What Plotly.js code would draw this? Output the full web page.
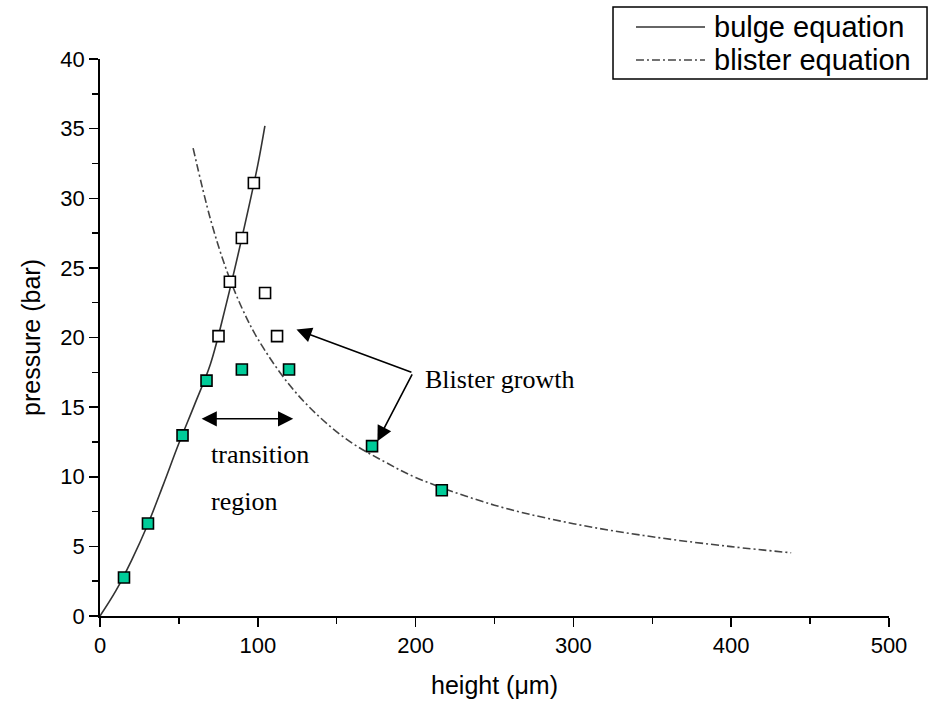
<!DOCTYPE html>
<html>
<head>
<meta charset="utf-8">
<script src="https://cdn.plot.ly/plotly-3.0.1.min.js"></script>
<style>html,body{margin:0;padding:0;background:#fff;}#chart{width:928px;height:704px;}</style>
</head>
<body>
<div id="chart"></div>
<script>
// Curve readings (height in µm, pressure in bar)
const bulgeH = [0, 10, 20, 30, 40, 50, 60, 70, 80, 90, 100, 104.5];
const bulgeP = [0, 1.8, 4.0, 6.5, 9.4, 12.4, 15.2, 18.1, 22.4, 27.2, 32.4, 35.2];
const blisterH = [59, 70, 80, 90, 100, 120, 140, 160, 180, 200, 250, 300, 350, 400, 438];
const blisterP = [33.6, 28.5, 24.9, 22.1, 19.9, 16.6, 14.2, 12.4, 11.1, 9.95, 7.96, 6.63, 5.69, 4.98, 4.54];
// Measured points
const greenH = [15.2, 30.4, 52.3, 67.5, 89.9, 119.8, 172.4, 216.6];
const greenP = [2.76, 6.64, 12.97, 16.9, 17.7, 17.7, 12.2, 9.03];
const whiteH = [75.1, 82.3, 89.9, 97.5, 104.6, 112.2];
const whiteP = [20.1, 24.0, 27.15, 31.1, 23.2, 20.1];
const seriesNames = ["bulge equation", "blister equation"];
const xTicks = [0, 100, 200, 300, 400, 500];
const yTicks = [0, 5, 10, 15, 20, 25, 30, 35, 40];

const bulgeLine = {color: "#333333", width: 1.6, shape: "spline"};
const blisterLine = {color: "#444444", width: 1.6, dash: "8px,3px,2px,3px", shape: "spline"};

const traces = [
  {x: bulgeH, y: bulgeP, mode: "lines", name: seriesNames[0], line: bulgeLine},
  {x: blisterH, y: blisterP, mode: "lines", name: seriesNames[1], line: blisterLine},
  {x: greenH, y: greenP, mode: "markers", name: "measured",
   marker: {symbol: "square", size: 11, color: "#00CC99", line: {color: "#000", width: 1.6}}},
  {x: whiteH, y: whiteP, mode: "markers", name: "measured (open)",
   marker: {symbol: "square", size: 11, color: "#ffffff", line: {color: "#000", width: 1.6}}}
];

const serif = {family: "Liberation Serif, Times New Roman, serif", size: 26, color: "#000"};
const sans = "Liberation Sans, Arial, sans-serif";
const arrowStyle = {xref: "x", yref: "y", axref: "x", ayref: "y", text: "", showarrow: true,
  arrowhead: 2, arrowsize: 1.9, arrowwidth: 1.6, arrowcolor: "#000"};

// legend box in paper coordinates
const lgX0 = 0.6502, lgX1 = 1.0482, lgY0 = 0.9641, lgY1 = 1.0934;
const lgRows = [1.0575, 0.9982];
const lgLineX = [0.6793, 0.7668];
const lgTextX = 0.7757;

const layout = {
  width: 928, height: 704,
  margin: {l: 100, r: 39, t: 59, b: 88},
  paper_bgcolor: "#fff", plot_bgcolor: "#fff",
  font: {family: sans, color: "#000"},
  showlegend: false,
  xaxis: {
    range: [0, 500], tickvals: xTicks,
    showgrid: false, zeroline: false, showline: true, linecolor: "#000", linewidth: 1.8,
    ticks: "outside", ticklen: 9, tickwidth: 1.5, tickcolor: "#000",
    minor: {dtick: 50, ticks: "outside", ticklen: 6, tickwidth: 1.5, tickcolor: "#000", showgrid: false},
    tickfont: {size: 22},
    title: {text: "height (μm)", font: {size: 25}, standoff: 19}
  },
  yaxis: {
    range: [0, 40], tickvals: yTicks,
    showgrid: false, zeroline: false, showline: true, linecolor: "#000", linewidth: 1.8,
    ticks: "outside", ticklen: 9, tickwidth: 1.5, tickcolor: "#000",
    minor: {dtick: 2.5, ticks: "outside", ticklen: 6, tickwidth: 1.5, tickcolor: "#000", showgrid: false},
    tickfont: {size: 22},
    title: {text: "pressure (bar)", font: {size: 25}, standoff: 12}
  },
  shapes: [
    {type: "rect", xref: "paper", yref: "paper", x0: lgX0, x1: lgX1, y0: lgY0, y1: lgY1,
     line: {color: "#000", width: 1.5}, fillcolor: "#fff"},
    {type: "line", xref: "paper", yref: "paper", x0: lgLineX[0], x1: lgLineX[1], y0: lgRows[0], y1: lgRows[0],
     line: {color: bulgeLine.color, width: bulgeLine.width}},
    {type: "line", xref: "paper", yref: "paper", x0: lgLineX[0], x1: lgLineX[1], y0: lgRows[1], y1: lgRows[1],
     line: {color: blisterLine.color, width: blisterLine.width, dash: blisterLine.dash}}
  ],
  annotations: [
    Object.assign({x: 64.4, y: 14.16, ax: 123.4, ay: 14.16, arrowside: "end+start", startarrowhead: 2, startarrowsize: 1.9}, arrowStyle),
    Object.assign({x: 124.5, y: 20.57, ax: 198.3, ay: 17.46}, arrowStyle),
    Object.assign({x: 175.8, y: 12.55, ax: 198.3, ay: 17.46}, arrowStyle),
    {x: 69, y: 11.6, xref: "x", yref: "y", xanchor: "left", yanchor: "middle",
     text: "transition", showarrow: false, font: serif},
    {x: 69, y: 8.2, xref: "x", yref: "y", xanchor: "left", yanchor: "middle",
     text: "region", showarrow: false, font: serif},
    {x: 204.4, y: 17.0, xref: "x", yref: "y", xanchor: "left", yanchor: "middle",
     text: "Blister growth", showarrow: false, font: serif},
    {x: lgTextX, y: lgRows[0], xref: "paper", yref: "paper", xanchor: "left", yanchor: "middle",
     text: seriesNames[0], showarrow: false, font: {family: sans, size: 29, color: "#000"}},
    {x: lgTextX, y: lgRows[1], xref: "paper", yref: "paper", xanchor: "left", yanchor: "middle",
     text: seriesNames[1], showarrow: false, font: {family: sans, size: 29, color: "#000"}}
  ]
};
Plotly.newPlot("chart", traces, layout, {displayModeBar: false, staticPlot: true});
</script>
</body>
</html>
